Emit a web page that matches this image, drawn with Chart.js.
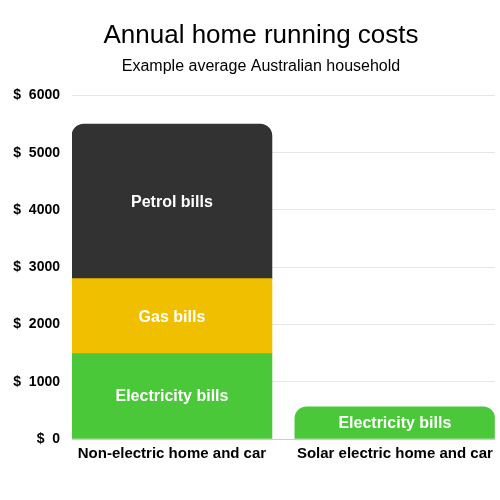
<!DOCTYPE html>
<html>
<head>
<meta charset="utf-8">
<script src="https://cdn.jsdelivr.net/npm/chart.js@4"></script>
<style>
html,body{margin:0;padding:0;background:#fff;}
#wrap{width:500px;height:500px;position:relative;}
</style>
</head>
<body>
<div id="wrap"><canvas id="c"></canvas></div>
<script>
// ---- Data ----
const categories = ["Non-electric home and car", "Solar electric home and car"];
const electricityBills = [1490, 560];
const gasBills = [1310, null];
const petrolBills = [2700, null];
const yTicks = [0, 1000, 2000, 3000, 4000, 5000, 6000];
const seriesNames = ["Electricity bills", "Gas bills", "Petrol bills"];

const FONT = "'Liberation Sans', Arial, Helvetica, sans-serif";
const colors = ["#4bc73a", "#f0bf00", "#323232"];
const allSeries = [electricityBills, gasBills, petrolBills];

function toPoints(arr) {
  const pts = [];
  arr.forEach((v, i) => { if (v !== null && v !== undefined) pts.push({x: i, y: v}); });
  return pts;
}

function isTop(dsIndex, catIndex) {
  for (let d = dsIndex + 1; d < allSeries.length; d++) {
    const v = allSeries[d][catIndex];
    if (v !== null && v !== undefined && v !== 0) return false;
  }
  return true;
}

const datasets = seriesNames.map((name, d) => ({
  label: name,
  data: toPoints(allSeries[d]),
  backgroundColor: colors[d],
  borderWidth: 0,
  barThickness: 200,
  borderSkipped: 'start',
  borderRadius: (ctx) => {
    const raw = ctx.raw;
    if (!raw) return 0;
    return isTop(ctx.datasetIndex, raw.x)
      ? {topLeft: 12, topRight: 12, bottomLeft: 0, bottomRight: 0}
      : 0;
  }
}));

const barLabels = {
  id: 'barLabels',
  afterDatasetsDraw(chart) {
    const ctx = chart.ctx;
    ctx.save();
    ctx.fillStyle = '#ffffff';
    ctx.font = "bold 16px " + FONT;
    ctx.textAlign = 'center';
    ctx.textBaseline = 'middle';
    chart.data.datasets.forEach((ds, di) => {
      const meta = chart.getDatasetMeta(di);
      meta.data.forEach((el) => {
        const p = el.getProps(['x', 'y', 'base'], true);
        ctx.fillText(ds.label, p.x, (p.y + p.base) / 2 + 1);
      });
    });
    ctx.restore();
  }
};

// centre the title block over the same span as the reference
const titleShift = {
  id: 'titleShift',
  afterLayout(chart) {
    chart.boxes.forEach((b) => {
      if (b.position === 'top' && b.options && b.options.text !== undefined) {
        b.left = 27;
      }
    });
  }
};

new Chart(document.getElementById('c'), {
  type: 'bar',
  data: { datasets },
  plugins: [barLabels, titleShift],
  options: {
    responsive: true,
    maintainAspectRatio: false,
    animation: false,
    layout: { padding: { left: 8, right: 5, top: 0, bottom: 31 } },
    plugins: {
      legend: { display: false },
      tooltip: { enabled: false },
      title: {
        display: true,
        text: "Annual home running costs",
        color: '#000',
        font: { family: FONT, size: 26, weight: 'normal' },
        padding: { top: 20, bottom: 6 }
      },
      subtitle: {
        display: true,
        text: "Example average Australian household",
        color: '#000',
        font: { family: FONT, size: 16, weight: 'normal' },
        padding: { top: 0, bottom: 19 }
      }
    },
    scales: {
      x: {
        type: 'linear',
        stacked: true,
        offset: false,
        min: -0.4484,
        max: 1.4484,
        afterBuildTicks: (axis) => { axis.ticks = categories.map((c, i) => ({ value: i })); },
        ticks: {
          color: '#000',
          font: { family: FONT, size: 15, weight: 'bold' },
          padding: 6,
          maxRotation: 0,
          autoSkip: false,
          callback: (v) => categories[v]
        },
        grid: { display: false, drawTicks: false },
        border: { display: true, color: '#cccccc', width: 1 }
      },
      y: {
        stacked: true,
        min: 0,
        max: 6000,
        afterBuildTicks: (axis) => { axis.ticks = yTicks.map(v => ({ value: v })); },
        afterFit: (scale) => { scale.width = 64; },
        ticks: {
          color: '#000',
          font: { family: FONT, size: 14, weight: 'bold' },
          padding: 12,
          callback: (v) => "$  " + v
        },
        grid: { color: '#e6e6e6', drawTicks: false },
        border: { display: false }
      }
    }
  }
});
</script>
</body>
</html>
